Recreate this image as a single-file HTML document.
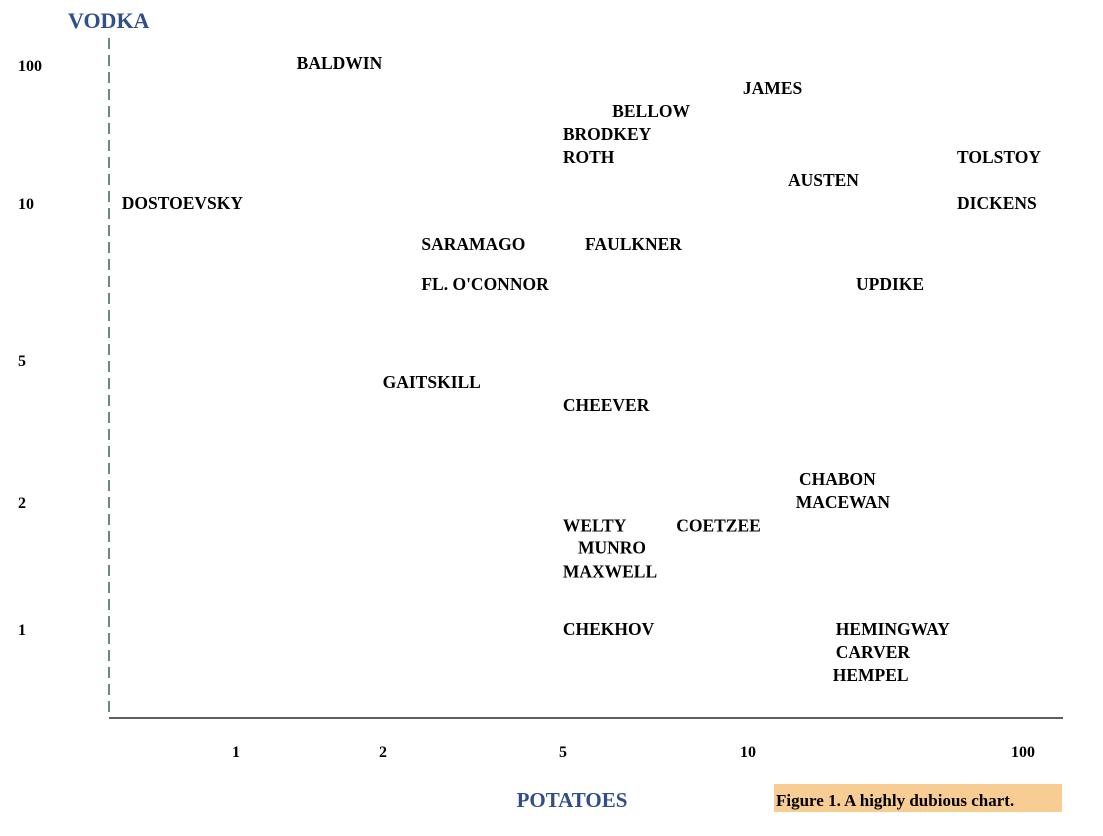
<!DOCTYPE html>
<html><head><meta charset="utf-8"><style>
html,body{margin:0;padding:0;background:#fff}
svg{display:block;font-family:"Liberation Serif",serif;font-weight:bold}
</style></head><body>
<svg id="chart" width="1103" height="836" viewBox="0 0 1103 836" xmlns="http://www.w3.org/2000/svg">
<line x1="109" y1="38" x2="109" y2="718" stroke="#1d4a3a" stroke-width="1.3" stroke-dasharray="11,6"/>
<line x1="109" y1="718" x2="1063" y2="718" stroke="#000" stroke-width="1.3"/>
<text x="68" y="28" font-size="22" fill="#2f4f8a">VODKA</text>
<text x="572" y="807" font-size="21" fill="#2f4f8a" text-anchor="middle">POTATOES</text>
<rect x="774" y="784" width="288" height="28" fill="#f8cd93"/>
<text x="776" y="806" font-size="17" fill="#000">Figure 1.  A highly dubious chart.</text>
<g id="ticks"></g>
<g id="labels"></g>
</svg>
<script>
const xTickValues=[1,2,5,10,100];
const xTickLabels=["1","2","5","10","100"];
const yTickValues=[100,10,5,2,1];
const yTickLabels=["100","10","5","2","1"];
const names=["BALDWIN","JAMES","BELLOW","BRODKEY","ROTH","TOLSTOY","AUSTEN","DOSTOEVSKY","DICKENS","SARAMAGO","FAULKNER","FL. O'CONNOR","UPDIKE","GAITSKILL","CHEEVER","CHABON","MACEWAN","WELTY","COETZEE","MUNRO","MAXWELL","CHEKHOV","HEMINGWAY","CARVER","HEMPEL"];
const potatoes=[1.30,9.63,5.9,4.87,4.87,55.2,13.4,0.57,55.2,2.37,5.33,2.37,23.7,1.95,4.87,14.7,14.3,4.87,7.5,5.19,4.87,4.87,20.0,20.0,19.5];
const vodka=[103,68,46.4,31.6,21.5,21.5,14.7,10,10,8.35,8.35,7.0,7.0,4.34,3.74,2.32,2,1.76,1.76,1.56,1.37,1,1,0.882,0.778];

// piecewise-log axis anchors (tick value -> pixel)
const xAnchorV=[1,2,5,10,100], xAnchorP=[236,383,563,748,1023];
const yAnchorV=[1,2,5,10,100], yAnchorP=[629,502,360,203,65];
function piece(v,V,P){
  const lv=Math.log(v);
  let i=0;
  if(v<=V[0]) i=0; else if(v>=V[V.length-1]) i=V.length-2;
  else { while(!(v>=V[i]&&v<=V[i+1])) i++; }
  const a=Math.log(V[i]),b=Math.log(V[i+1]);
  return P[i]+(lv-a)/(b-a)*(P[i+1]-P[i]);
}
const xScale=v=>piece(v,xAnchorV,xAnchorP);
const yScale=v=>piece(v,yAnchorV,yAnchorP);
const NS="http://www.w3.org/2000/svg";
const ticks=document.getElementById('ticks');
xTickValues.forEach((v,i)=>{
  const t=document.createElementNS(NS,'text');
  
  
  t.setAttribute('x',xScale(v));t.setAttribute('y',757);
  t.setAttribute('font-size','16');t.setAttribute('text-anchor','middle');
  t.textContent=xTickLabels[i];ticks.appendChild(t);
});
yTickValues.forEach((v,i)=>{
  const t=document.createElementNS(NS,'text');
  
  
  t.setAttribute('x',18);t.setAttribute('y',yScale(v)+6);
  t.setAttribute('font-size','16');
  t.textContent=yTickLabels[i];ticks.appendChild(t);
});
const labels=document.getElementById('labels');
names.forEach((n,i)=>{
  const t=document.createElementNS(NS,'text');
  
  
  t.setAttribute('x',xScale(potatoes[i])+5);
  t.setAttribute('y',yScale(vodka[i])+6);
  t.setAttribute('font-size','17.5');
  t.textContent=n;labels.appendChild(t);
});
</script>
</body></html>
